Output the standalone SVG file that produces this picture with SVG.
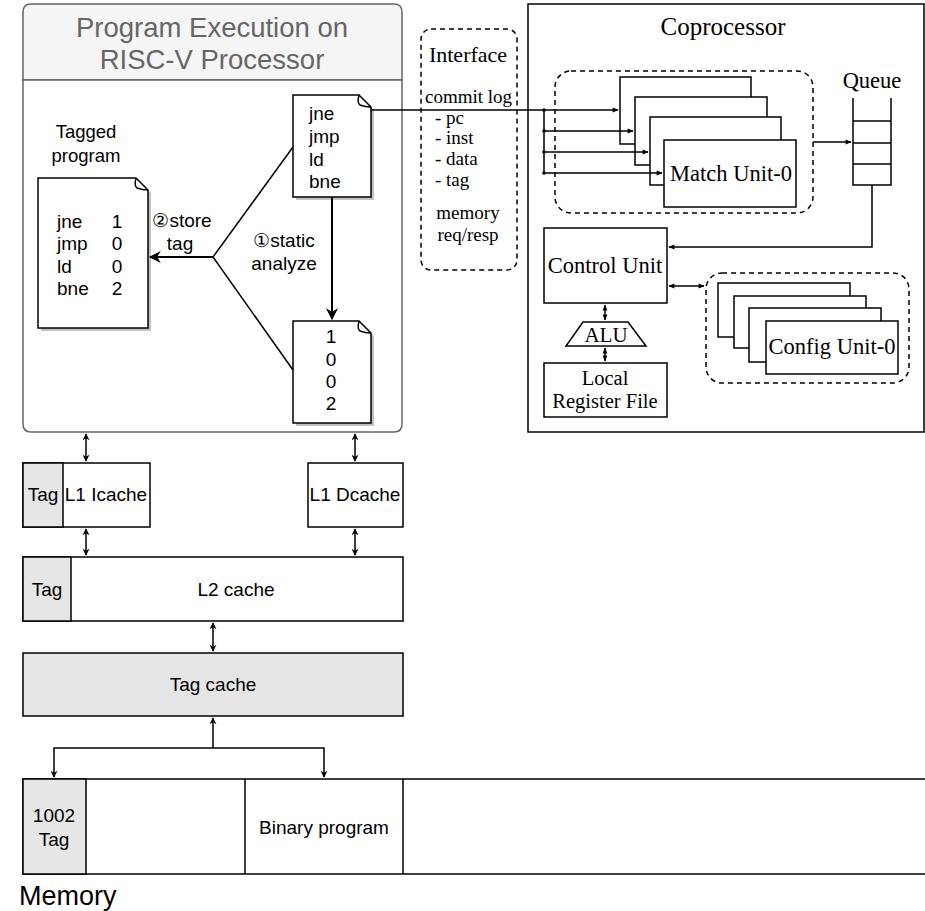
<svg xmlns="http://www.w3.org/2000/svg" width="925" height="911" viewBox="0 0 925 911">
<style>
.sans{font-family:"Liberation Sans",Arial,sans-serif;fill:#000}
.serif{font-family:"Liberation Serif","Times New Roman",serif;fill:#000}
.box{fill:#fff;stroke:#000;stroke-width:1.5}
.tag{fill:#e6e6e6;stroke:#000;stroke-width:1.5}
.dash{fill:none;stroke:#000;stroke-width:1.5;stroke-dasharray:5 4}
.ln{fill:none;stroke:#000;stroke-width:1.5}
.ln2{fill:none;stroke:#000;stroke-width:2}
.shadow{fill:#999;opacity:0.6}
</style>
<defs>
<marker id="ab" viewBox="0 0 10 10" refX="9" refY="5" markerWidth="7" markerHeight="7" orient="auto-start-reverse" markerUnits="userSpaceOnUse">
<path d="M0,0 L10,5 L0,10 L3,5 Z" fill="#000"/>
</marker>
<marker id="abig" viewBox="0 0 10 10" refX="9" refY="5" markerWidth="12" markerHeight="12" orient="auto-start-reverse" markerUnits="userSpaceOnUse">
<path d="M0,0 L10,5 L0,10 L3,5 Z" fill="#000"/>
</marker>
<marker id="as" viewBox="0 0 10 10" refX="9" refY="5" markerWidth="7" markerHeight="6" orient="auto-start-reverse" markerUnits="userSpaceOnUse">
<path d="M0,1 L10,5 L0,9 Z" fill="#000"/>
</marker>
</defs>

<g id="processor">
<path d="M31,4 H394 Q402,4 402,12 V80 H23 V12 Q23,4 31,4 Z" fill="#f5f5f5" stroke="#666" stroke-width="1.5"/>
<path d="M23,80 H402 V424 Q402,432 394,432 H31 Q23,432 23,424 Z" fill="#fff" stroke="#666" stroke-width="1.5"/>
<text class="sans" x="212" y="37" text-anchor="middle" font-size="27.5" style="fill:#666">Program Execution on</text>
<text class="sans" x="212" y="69" text-anchor="middle" font-size="27.5" style="fill:#666">RISC-V Processor</text>
</g>

<g id="tagged-label">
<text class="sans" x="86" y="138" text-anchor="middle" font-size="18.5">Tagged</text>
<text class="sans" x="86" y="162" text-anchor="middle" font-size="18.5">program</text>
</g>

<g id="tagged-program">
<path class="shadow" d="M41,181 H139 L151,193 V331 H41 Z"/>
<path class="box" d="M38,178 H136 L148,190 V328 H38 Z"/>
<path class="ln" d="M136,178 Q134,186 137,188 Q142,190 148,190"/>
<text class="sans" font-size="19"><tspan x="57" y="228">jne</tspan><tspan x="57" y="250">jmp</tspan><tspan x="57" y="273">ld</tspan><tspan x="57" y="295">bne</tspan></text>
<text class="sans" font-size="19" text-anchor="middle"><tspan x="117" y="228">1</tspan><tspan x="117" y="250">0</tspan><tspan x="117" y="273">0</tspan><tspan x="117" y="295">2</tspan></text>
</g>

<g id="program-doc">
<path class="shadow" d="M296,98 H362 L374,110 V200 H296 Z"/>
<path class="box" d="M293,95 H359 L371,107 V197 H293 Z"/>
<path class="ln" d="M359,95 Q357,103 360,105 Q365,107 371,107"/>
<text class="sans" font-size="19"><tspan x="309" y="120">jne</tspan><tspan x="309" y="143">jmp</tspan><tspan x="309" y="166">ld</tspan><tspan x="309" y="188">bne</tspan></text>
</g>

<g id="tag-doc">
<path class="shadow" d="M296,324 H362 L374,336 V426 H296 Z"/>
<path class="box" d="M293,321 H359 L371,333 V423 H293 Z"/>
<path class="ln" d="M359,321 Q357,329 360,331 Q365,333 371,333"/>
<text class="sans" font-size="19" text-anchor="middle"><tspan x="331" y="343">1</tspan><tspan x="331" y="366">0</tspan><tspan x="331" y="388">0</tspan><tspan x="331" y="410">2</tspan></text>
</g>

<g id="labels">
<text class="sans" x="182" y="227" text-anchor="middle" font-size="19">②store</text>
<text class="sans" x="180" y="250" text-anchor="middle" font-size="19">tag</text>
<text class="sans" x="284" y="247" text-anchor="middle" font-size="19">①static</text>
<text class="sans" x="284" y="270" text-anchor="middle" font-size="19">analyze</text>
</g>

<g id="interface">
<rect class="dash" x="421" y="29" width="96" height="241" rx="10"/>
<text class="serif" x="468" y="62" text-anchor="middle" font-size="22">Interface</text>
<text class="serif" x="425" y="103" font-size="19">commit log</text>
<text class="serif" font-size="19"><tspan x="435" y="124">- pc</tspan><tspan x="435" y="144">- inst</tspan><tspan x="435" y="165">- data</tspan><tspan x="435" y="186">- tag</tspan></text>
<text class="serif" x="468" y="219" text-anchor="middle" font-size="19">memory</text>
<text class="serif" x="468" y="241" text-anchor="middle" font-size="19">req/resp</text>
</g>

<g id="coprocessor">
<rect class="box" x="528" y="4" width="396" height="428"/>
<text class="serif" x="723" y="35" text-anchor="middle" font-size="25">Coprocessor</text>
</g>

<g id="match-units">
<rect class="dash" x="555" y="71" width="258" height="142" rx="16"/>
<rect class="box" x="620" y="77" width="131" height="67"/>
<rect class="box" x="635" y="97" width="132" height="68"/>
<rect class="box" x="650" y="117" width="131" height="68"/>
<rect class="box" x="664" y="140" width="132" height="67"/>
<text class="serif" x="731" y="181" text-anchor="middle" font-size="22.5">Match Unit-0</text>
</g>

<g id="queue">
<text class="serif" x="872" y="88" text-anchor="middle" font-size="22.5">Queue</text>
<path class="ln" d="M853,98 V185 H891 V98 M853,121 H891 M853,143 H891 M853,164 H891"/>
</g>

<g id="control-unit">
<rect class="box" x="544" y="228" width="123" height="75"/>
<text class="serif" x="605" y="273" text-anchor="middle" font-size="22.5">Control Unit</text>
</g>

<g id="alu">
<path class="box" d="M583,322 H628 L646,346 H566 Z"/>
<text class="serif" x="606" y="342" text-anchor="middle" font-size="21">ALU</text>
</g>

<g id="register-file">
<rect class="box" x="544" y="363" width="123" height="54"/>
<text class="serif" x="605" y="385" text-anchor="middle" font-size="20.5">Local</text>
<text class="serif" x="605" y="408" text-anchor="middle" font-size="20.5">Register File</text>
</g>

<g id="config-units">
<rect class="dash" x="706" y="273" width="203" height="110" rx="16"/>
<rect class="box" x="718" y="283" width="132" height="54"/>
<rect class="box" x="734" y="296" width="132" height="52"/>
<rect class="box" x="749" y="308" width="132" height="54"/>
<rect class="box" x="766" y="321" width="132" height="53"/>
<text class="serif" x="832" y="354" text-anchor="middle" font-size="22.5">Config Unit-0</text>
</g>

<g id="l1-icache">
<rect class="box" x="23" y="463" width="127" height="64"/>
<rect class="tag" x="23" y="463" width="40" height="64"/>
<text class="sans" x="43" y="501" text-anchor="middle" font-size="19">Tag</text>
<text class="sans" x="106" y="501" text-anchor="middle" font-size="19">L1 Icache</text>
</g>

<g id="l1-dcache">
<rect class="box" x="308" y="463" width="95" height="64"/>
<text class="sans" x="355" y="501" text-anchor="middle" font-size="19">L1 Dcache</text>
</g>

<g id="l2-cache">
<rect class="box" x="23" y="557" width="380" height="64"/>
<rect class="tag" x="23" y="557" width="48" height="64"/>
<text class="sans" x="47" y="596" text-anchor="middle" font-size="19">Tag</text>
<text class="sans" x="236" y="596" text-anchor="middle" font-size="19">L2 cache</text>
</g>

<g id="tag-cache">
<rect class="tag" x="23" y="653" width="380" height="63"/>
<text class="sans" x="213" y="691" text-anchor="middle" font-size="19">Tag cache</text>
</g>

<g id="memory">
<path class="ln" d="M930,779 H23 V874 H930"/>
<rect class="tag" x="23" y="779" width="63" height="95"/>
<path class="ln" d="M245,779 V874 M403,779 V874"/>
<text class="sans" x="54" y="822" text-anchor="middle" font-size="19">1002</text>
<text class="sans" x="54" y="846" text-anchor="middle" font-size="19">Tag</text>
<text class="sans" x="324" y="834" text-anchor="middle" font-size="19">Binary program</text>
<text class="sans" x="19" y="905" font-size="27">Memory</text>
</g>

<g id="connectors">
<path class="ln" d="M293,147 L213,257 L293,370"/>
<path class="ln2" d="M213,257 H150" marker-end="url(#abig)"/>
<path class="ln2" d="M332,197 V319" marker-end="url(#abig)"/>
<path class="ln" d="M371,110 H618" marker-end="url(#as)"/>
<path class="ln" d="M544,110 V173"/>
<path class="ln" d="M544,131 H633" marker-end="url(#as)"/>
<path class="ln" d="M544,152 H648" marker-end="url(#as)"/>
<path class="ln" d="M544,173 H662" marker-end="url(#as)"/>
<circle cx="544" cy="110" r="1.8" fill="#000"/>
<circle cx="544" cy="131" r="1.8" fill="#000"/>
<circle cx="544" cy="152" r="1.8" fill="#000"/>
<circle cx="544" cy="173" r="1.8" fill="#000"/>
<path class="ln" d="M813,142 H851" marker-end="url(#as)"/>
<path class="ln" d="M872,185 V247 H669" marker-end="url(#as)"/>
<path class="ln" d="M669,286 H704" marker-start="url(#as)" marker-end="url(#as)"/>
<path class="ln" d="M605,305 V320" marker-start="url(#as)" marker-end="url(#as)"/>
<path class="ln" d="M605,348 V361" marker-start="url(#as)" marker-end="url(#as)"/>
<path class="ln" d="M86,434 V461" marker-start="url(#ab)" marker-end="url(#ab)"/>
<path class="ln" d="M355,434 V461" marker-start="url(#ab)" marker-end="url(#ab)"/>
<path class="ln" d="M86,529 V555" marker-start="url(#ab)" marker-end="url(#ab)"/>
<path class="ln" d="M355,529 V555" marker-start="url(#ab)" marker-end="url(#ab)"/>
<path class="ln" d="M213,623 V651" marker-start="url(#ab)" marker-end="url(#ab)"/>
<path class="ln" d="M213,748 V718" marker-end="url(#ab)"/>
<path class="ln" d="M54,777 V748 H324 V777" marker-start="url(#ab)" marker-end="url(#ab)"/>
</g>
</svg>
